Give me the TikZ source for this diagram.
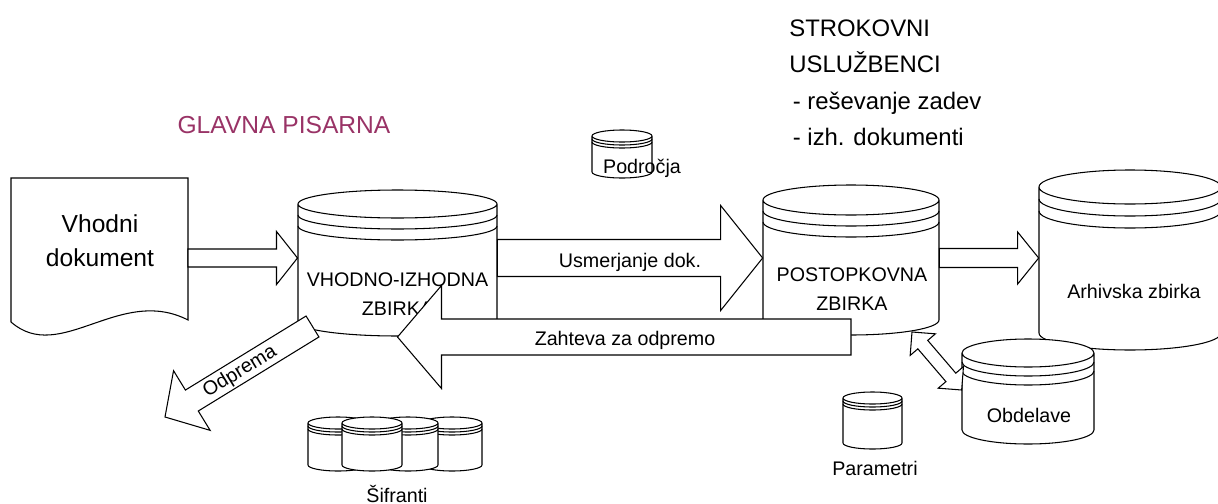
\documentclass[tikz,border=0pt]{standalone}
\usepackage{fontspec}
\setmainfont{Liberation Sans}
\usepackage{tikz}
\usetikzlibrary{calc}
\definecolor{pisarna}{RGB}{153,51,102}

% data store: name, centre x, top y, bottom y, half width, y radius, ring gap
\newcommand{\dbcyl}[7]{%
  \fill[white] (#2-#5,-#3) -- (#2-#5,-#4)
    arc[start angle=180,end angle=360,x radius=#5,y radius=#6]
    -- (#2+#5,-#3) arc[start angle=0,end angle=180,x radius=#5,y radius=#6] -- cycle;
  \draw[cyl] (#2-#5,-#3) -- (#2-#5,-#4)
    arc[start angle=180,end angle=360,x radius=#5,y radius=#6]
    -- (#2+#5,-#3) arc[start angle=0,end angle=360,x radius=#5,y radius=#6];
  \foreach \r in {1,2}
    \draw[cyl] (#2-#5,-#3-\r*#7) arc[start angle=180,end angle=360,x radius=#5,y radius=#6];
  \node[inner sep=0,minimum width={2*#5*0.02cm},minimum height={(#4-#3)*0.02cm}]
    (#1) at (#2,-#3/2-#4/2) {};
}
% hollow block arrow: shaft half width, head half width, head length, from, to
\newcommand{\blockarrow}[5]{%
  \path (#4) coordinate (ba-a) (#5) coordinate (ba-b)
    ($(ba-b)!#3*0.02cm!(ba-a)$) coordinate (ba-n);
  \draw[barrow] ($(ba-a)!#1*0.02cm!90:(ba-b)$) -- ($(ba-n)!#1*0.02cm!90:(ba-b)$)
    -- ($(ba-n)!#2*0.02cm!90:(ba-b)$) -- (ba-b) -- ($(ba-n)!#2*0.02cm!-90:(ba-b)$)
    -- ($(ba-n)!#1*0.02cm!-90:(ba-b)$) -- ($(ba-a)!#1*0.02cm!-90:(ba-b)$) -- cycle;
}
% same, with a head at both ends
\newcommand{\dblarrow}[5]{%
  \path (#4) coordinate (ba-a) (#5) coordinate (ba-b)
    ($(ba-a)!#3*0.02cm!(ba-b)$) coordinate (ba-m)
    ($(ba-b)!#3*0.02cm!(ba-a)$) coordinate (ba-n);
  \draw[barrow] (ba-a) -- ($(ba-m)!#2*0.02cm!90:(ba-b)$) -- ($(ba-m)!#1*0.02cm!90:(ba-b)$)
    -- ($(ba-n)!#1*0.02cm!90:(ba-b)$) -- ($(ba-n)!#2*0.02cm!90:(ba-b)$) -- (ba-b)
    -- ($(ba-n)!#2*0.02cm!-90:(ba-b)$) -- ($(ba-n)!#1*0.02cm!-90:(ba-b)$)
    -- ($(ba-m)!#1*0.02cm!-90:(ba-b)$) -- ($(ba-m)!#2*0.02cm!-90:(ba-b)$) -- cycle;
}

\begin{document}
\begin{tikzpicture}[x=0.02cm,y=0.02cm,
  cyl/.style={line width=0.6pt,black},
  barrow/.style={line width=0.6pt,black,fill=white,line join=miter},
  lbl/.style={font=\fontsize{11.2}{16.6}\selectfont,align=center,inner sep=0},
  big/.style={font=\fontsize{14}{19.3}\selectfont,align=center,inner sep=0}
]
\useasboundingbox (0,0) rectangle (1218,-504);
\clip (0,0) rectangle (1218,-504);
\coordinate (flow) at (0,-258);
\coordinate (back) at (0,-337);

% Headings
\node[big,text=pisarna,anchor=base] (glavna) at (284,-133) {GLAVNA PISARNA};
\node[font=\fontsize{13.6}{20.7}\selectfont,align=left,inner sep=0,anchor=north west]
  (strok) at (789,-19.5)
  {STROKOVNI\\USLUŽBENCI\\\hspace*{2pt}- reševanje zadev\\\hspace*{2pt}- izh. dokumenti};

% Področja
\dbcyl{podr}{622}{136}{172}{30}{6}{3}
\node[lbl,anchor=base] (podrtxt) at (642,-173) {Področja};

% Input document
\draw[cyl,fill=white] (11,-178) -- (188,-178) -- (188,-320)
  .. controls (120,-285) and (60,-365) .. (11,-322) -- cycle;
\node[big] (doc) at (100,-240.7) {Vhodni\\dokument};
\coordinate (docout) at (188,-258);
\blockarrow{9}{26.5}{21}{docout}{398-100.5,-258}

% Archive and Obdelave
\dbcyl{arh}{1130}{187}{333}{91}{17}{12}
\node[lbl,anchor=base] (arhtxt) at (1134,-298) {Arhivska zbirka};
\dbcyl{obd}{1028}{353}{430}{66}{14}{9}
\node[lbl,anchor=base] (obdtxt) at (1029,-422) {Obdelave};

% Postopkovna zbirka
\dbcyl{post}{851}{200}{320}{88}{15}{11}
\node[lbl] (posttxt) at (852,-289.5) {POSTOPKOVNA\\ZBIRKA};
\coordinate (obd-a) at (912,-332);
\dblarrow{6.5}{16.6}{16.6}{obd-a}{obd.west |- 0,-390}
\blockarrow{9.5}{26}{21}{post.east |- flow}{arh.west |- flow}

% Vhodno-izhodna zbirka
\dbcyl{vhod}{397.5}{204}{322}{99.5}{14}{11}
\node[lbl] (vhodtxt) at (397.5,-294.3) {VHODNO-IZHODNA\\ZBIRKA};
\blockarrow{18.5}{52.5}{42}{vhod.east |- flow}{post.west |- flow}
\node[lbl,anchor=base] (usm) at (630,-267) {Usmerjanje dok.};
\blockarrow{18}{51.5}{44}{post.center |- back}{vhod.center |- back}
\node[lbl,anchor=base] (zaht) at (625,-345) {Zahteva za odpremo};

% Odprema
\coordinate (odpr-in) at (312.5,-326.5);
\coordinate (odpr-out) at (165,-417);
\blockarrow{12.3}{35}{31.5}{odpr-in}{odpr-out}
\node[lbl,rotate=31.5] (odpr) at (240,-372) {Odprema};

% Šifranti
\foreach \n/\cx in {1/338,4/452,3/408,2/372}{
  \dbcyl{sif\n}{\cx}{423}{465}{30}{6}{3}
}
\node[lbl,anchor=base] (siftxt) at (397,-502) {Šifranti};

% Parametri
\dbcyl{par}{872.5}{398}{443}{29.5}{6}{3}
\node[lbl,anchor=base] (partxt) at (875,-475) {Parametri};

\end{tikzpicture}
\end{document}
